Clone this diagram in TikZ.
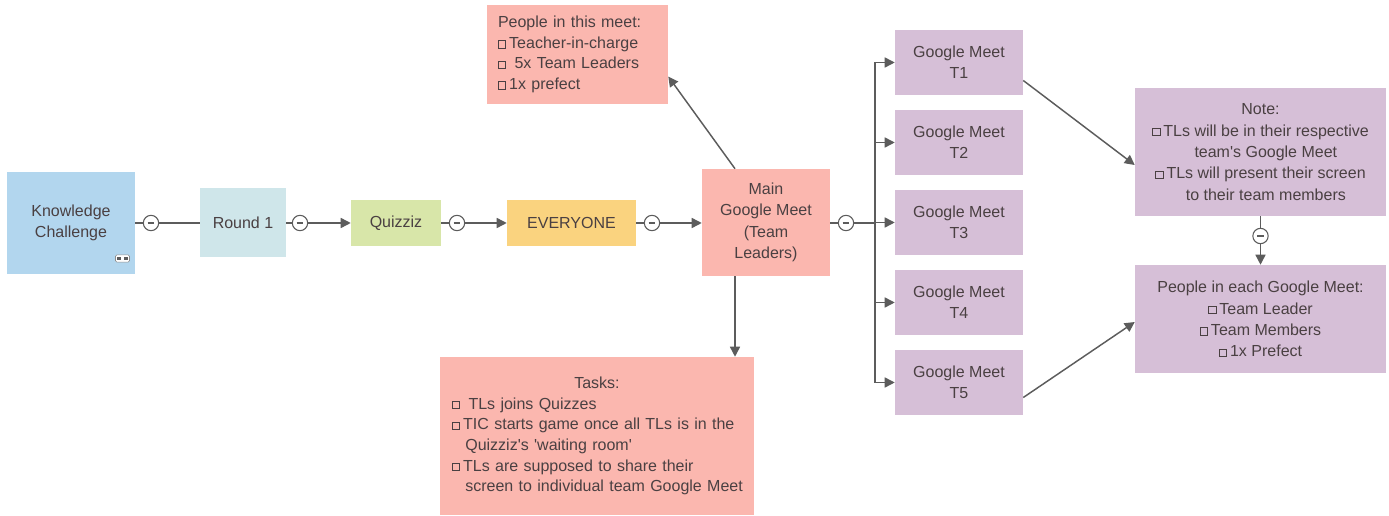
\documentclass[tikz,border=0pt]{standalone}
\usepackage{fontspec}
\setmainfont{Liberation Sans}
\usetikzlibrary{arrows.meta}
\definecolor{txt}{HTML}{4A4042}
\definecolor{lnk}{HTML}{5C5C5C}
\definecolor{cblue}{HTML}{B2D6EE}
\definecolor{ccyan}{HTML}{CFE6EA}
\definecolor{cgreen}{HTML}{D8E6A9}
\definecolor{corange}{HTML}{FAD37F}
\definecolor{csalmon}{HTML}{FBB7AF}
\definecolor{clav}{HTML}{D6BFD7}
\newcommand{\cbx}{\tikz[baseline=-0.2pt]\draw[line width=0.6pt,txt] (0,0) rectangle (5.6pt,5.6pt);\hspace{2.2pt}}
\tikzset{
  box/.style={inner sep=0pt, text=txt, font=\fontsize{12}{16}\selectfont, align=center},
  arr/.style={draw=lnk, line width=1.1pt, -{Triangle[length=7.5pt,width=7.5pt]}},
  lnkline/.style={draw=lnk, line width=1.1pt},
  collapse/.style={circle, draw=lnk, fill=white, line width=0.8pt, minimum size=11.5pt, inner sep=0pt,
    path picture={\draw[lnk, line width=0.8pt] ([xshift=-2.6pt]path picture bounding box.center) -- ([xshift=2.6pt]path picture bounding box.center);}}
}
\begin{document}
\begin{tikzpicture}[x=0.75pt,y=-0.75pt]
\useasboundingbox (0,0) rectangle (1389,516);
% nodes
\node[box, fill=cblue, minimum width=96pt, minimum height=76.5pt] (kc) at (71,223) {Knowledge\\Challenge};
\node[box, fill=ccyan, minimum width=64.5pt, minimum height=51.75pt] (r1) at (243,223) {Round 1};
\node[box, fill=cgreen, minimum width=67.5pt, minimum height=34.5pt] (qz) at (396,223) {Quizziz};
\node[box, fill=corange, minimum width=96.75pt, minimum height=34.5pt] (ev) at (571.5,223) {EVERYONE};
\node[box, fill=csalmon, minimum width=96pt, minimum height=80.25pt] (main) at (766,222.5) {Main\\Google Meet\\(Team\\Leaders)};
\node[box, fill=csalmon, font=\fontsize{12}{15.5}\selectfont, text width=119.25pt, inner xsep=8.25pt, minimum height=74.25pt, align=left] (pm) at (577.5,54.5)
  {People in this meet:\\\cbx Teacher-in-charge\\\cbx\ 5x Team Leaders\\\cbx 1x prefect};
\node[box, fill=csalmon, font=\fontsize{12}{15.5}\selectfont, text width=217.5pt, inner xsep=9pt, minimum height=118.5pt, align=left] (tasks) at (597,436)
  {{\centering Tasks:\par}
   \mbox{\cbx\ TLs joins Quizzes}\par
   \mbox{\cbx TIC starts game once all TLs is in the}\par
   \mbox{\hspace*{10pt}Quizziz\textquotesingle s \textquotesingle waiting room\textquotesingle}\par
   \mbox{\cbx TLs are supposed to share their}\par
   \mbox{\hspace*{10pt}screen to individual team Google Meet}};
\foreach \i/\y in {1/62.5,2/142.5,3/222.5,4/302.5,5/382.5}{
  \node[box, fill=clav, minimum width=96pt, minimum height=48.75pt] (t\i) at (959,\y) {Google Meet\\T\i};
}
\node[box, fill=clav, minimum width=188.25pt, minimum height=96pt] (note) at (1260.5,152)
  {Note:\\\cbx TLs will be in their respective\\\hspace*{8pt}team\textquotesingle s Google Meet\\\cbx TLs will present their screen\\\hspace*{8pt}to their team members};
\node[box, fill=clav, minimum width=188.25pt, minimum height=81pt] (pe) at (1260.5,319)
  {People in each Google Meet:\\\cbx Team Leader\\\cbx Team Members\\\cbx 1x Prefect};
% small icon in KC
\node[draw=lnk!70, fill=white, rounded corners=1pt, line width=0.4pt, minimum width=10.5pt, minimum height=5.5pt, inner sep=0pt] (icon) at (122.5,258.5) {};
\fill[lnk] ([xshift=1.3pt]icon.west) ++(0,-1.4pt) rectangle ++(2.8pt,2.8pt);
\fill[lnk] ([xshift=-1.3pt]icon.east) ++(0,-1.4pt) rectangle ++(-2.8pt,2.8pt);
% collapse markers
\node[collapse] (m1) at (151,223) {};
\node[collapse] (m2) at (300,223) {};
\node[collapse] (m3) at (457,223) {};
\node[collapse] (m4) at (652,223) {};
\node[collapse] (m5) at (846,223) {};
\node[collapse] (m6) at (1260.5,236) {};
% connectors
\draw[lnkline] (kc.east) -- (m1) -- (r1.west);
\draw[lnkline] (r1.east) -- (m2);
\draw[arr] (m2) -- (qz.west);
\draw[lnkline] (qz.east) -- (m3);
\draw[arr] (m3) -- (ev.west);
\draw[lnkline] (ev.east) -- (m4);
\draw[arr] (m4) -- (main.west |- m4);
\coordinate (trunk) at (875,223);
\draw[lnkline] (main.east |- m5) -- (m5) -- (trunk);
\foreach \i in {1,...,5}{
  \draw[arr] (trunk) |- (t\i.west);
}
\draw[arr] ([xshift=-23.25pt]main.north) -- ([yshift=-16.5pt]pm.east);
\draw[arr] ([xshift=-23.25pt]main.south) -- ([xshift=-23.25pt]main.south |- tasks.north);
\draw[arr] ([yshift=-13.5pt]t1.east) -- ([yshift=-9.75pt]note.west);
\draw[arr] ([yshift=-11.25pt]t5.east) -- ([yshift=-2.25pt]pe.west);
\draw[lnkline] (note.south) -- (m6);
\draw[arr] (m6) -- (pe.north);
\end{tikzpicture}
\end{document}
